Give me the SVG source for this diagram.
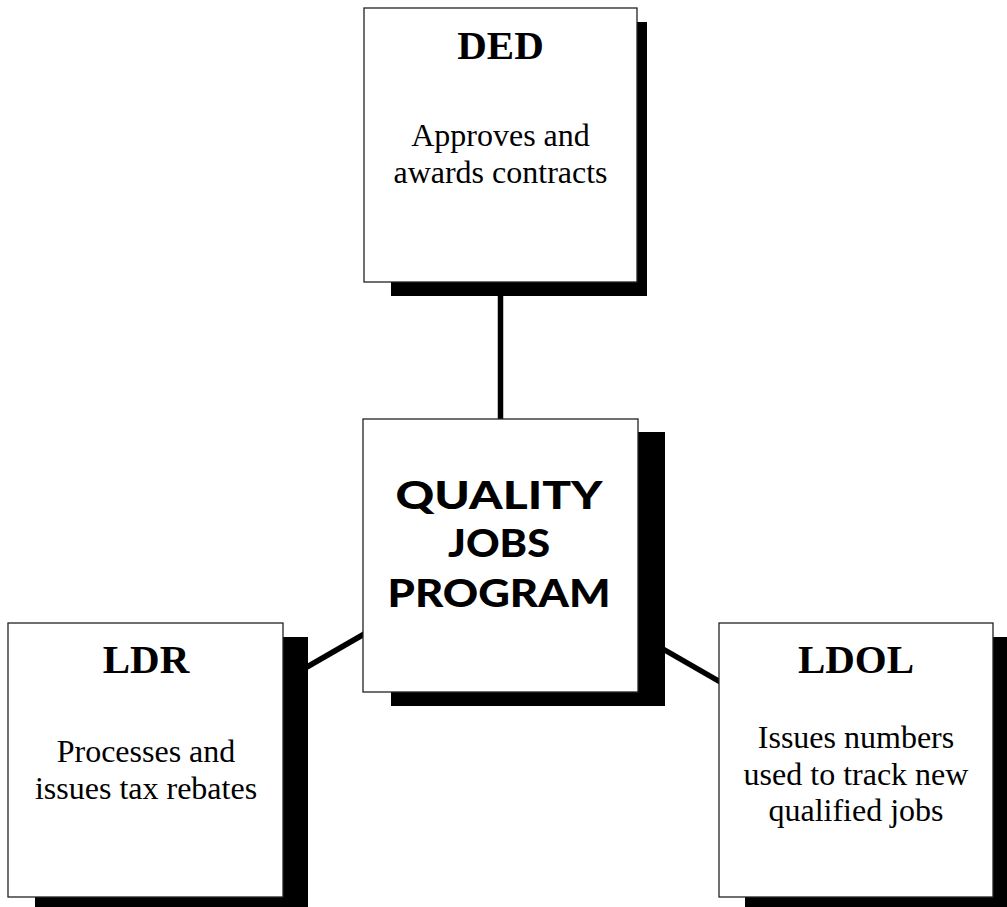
<svg xmlns="http://www.w3.org/2000/svg" width="1007" height="907" viewBox="0 0 1007 907">
<style>
.box{fill:#fff;stroke:#222;stroke-width:1.3}
.shadow{fill:#000}
.conn{stroke:#000;stroke-width:5.5;fill:none}
.title{font-family:"Liberation Serif","Times New Roman",serif;font-weight:bold;font-size:41px;text-anchor:middle;fill:#000}
.desc{font-family:"Liberation Serif","Times New Roman",serif;font-size:32px;text-anchor:middle;fill:#000}
.main{font-family:Lato,"Open Sans","Liberation Sans",sans-serif;font-weight:900;font-size:38px;text-anchor:middle;fill:#000}
</style>
<rect width="1007" height="907" fill="#fff"/>
<g id="connectors">
<line class="conn" x1="500.5" y1="145" x2="500.5" y2="555"/>
<line class="conn" x1="145.5" y1="760" x2="500.5" y2="555.5"/>
<line class="conn" x1="856" y1="760" x2="500.5" y2="555.5"/>
</g>
<g id="ded">
<rect class="shadow" x="391" y="22" width="256" height="274"/>
<rect class="box" x="364" y="8" width="273" height="274"/>
<text class="title" x="500.5" y="59">DED</text>
<text class="desc" x="500.5" y="146">Approves and</text>
<text class="desc" x="500.5" y="183">awards contracts</text>
</g>
<g id="qjp">
<rect class="shadow" x="391" y="432" width="274" height="274"/>
<rect class="box" x="363" y="419" width="275" height="273"/>
<text class="main" x="499" y="509" textLength="207" lengthAdjust="spacingAndGlyphs">QUALITY</text>
<text class="main" x="499" y="557" textLength="102" lengthAdjust="spacingAndGlyphs">JOBS</text>
<text class="main" x="499" y="607" textLength="223" lengthAdjust="spacingAndGlyphs">PROGRAM</text>
</g>
<g id="ldr">
<rect class="shadow" x="35" y="637" width="273" height="274"/>
<rect class="box" x="8" y="623" width="275" height="274"/>
<text class="title" x="146" y="673">LDR</text>
<text class="desc" x="146" y="762">Processes and</text>
<text class="desc" x="146" y="799">issues tax rebates</text>
</g>
<g id="ldol">
<rect class="shadow" x="745" y="637" width="273" height="274"/>
<rect class="box" x="719" y="623" width="274" height="274"/>
<text class="title" x="856" y="673">LDOL</text>
<text class="desc" x="856" y="748">Issues numbers</text>
<text class="desc" x="856" y="785">used to track new</text>
<text class="desc" x="856" y="821">qualified jobs</text>
</g>
</svg>
